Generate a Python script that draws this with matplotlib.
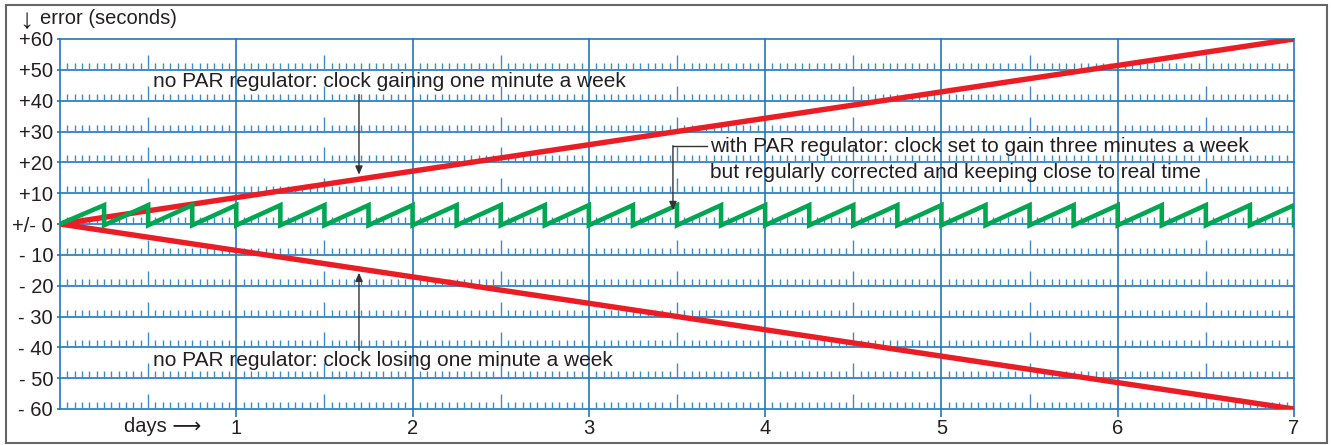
import matplotlib
matplotlib.use("Agg")
import matplotlib.pyplot as plt
from matplotlib.patches import Rectangle

# ============================================
# DATA
# ============================================
days_ticks = [1, 2, 3, 4, 5, 6, 7]
err_levels = [-60, -50, -40, -30, -20, -10, 0, 10, 20, 30, 40, 50, 60]
err_labels = ["- 60", "- 50", "- 40", "- 30", "- 20", "- 10", "+/- 0",
              "+10", "+20", "+30", "+40", "+50", "+60"]

# clocks without regulator: straight drift over the week
drift_days = [0, 7]
gain_err = [0, 60]
loss_err = [0, -60]

# clock with regulator: corrected four times a day
correction_days = [0.25, 0.5, 0.75, 1.0, 1.25, 1.5, 1.75, 2.0,
                   2.25, 2.5, 2.75, 3.0, 3.25, 3.5, 3.75, 4.0,
                   4.25, 4.5, 4.75, 5.0, 5.25, 5.5, 5.75, 6.0,
                   6.25, 6.5, 6.75, 7.0]
tooth_top = 6.1
tooth_low = -0.4

# ============================================
# STYLE
# ============================================
BLUE = "#2079bf"
TICK_BLUE = "#3a8ccc"
RED = "#ec1c24"
GREEN = "#00a651"
TXT = "#231f20"
FONT = ["Liberation Sans", "DejaVu Sans"]
plt.rcParams["font.family"] = FONT
FS = 15      # annotation text
FS_AX = 14.5 # axis labels

W, H = 1331, 445
fig = plt.figure(figsize=(W / 100, H / 100), dpi=100)
ax = fig.add_axes([60 / W, 1 - 409 / H, (1294 - 60) / W, (409 - 39) / H])
ax.set_xlim(0, 7)
ax.set_ylim(-60, 60)
for s in ax.spines.values():
    s.set_visible(False)

# grid lines
for lv in err_levels:
    ax.axhline(lv, color=BLUE, lw=1.2, zorder=1, clip_on=False)
for d in [0] + days_ticks:
    ax.axvline(d, color=BLUE, lw=1.2, zorder=1, clip_on=False)

# hourly ticks above each horizontal line (taller at noon)
units_per_px = 120 / (409 - 39)
for lv in err_levels[:-1]:
    for day in range(7):
        for hour in range(1, 24):
            h = 15 if hour == 12 else 7
            ax.vlines(day + hour / 24, lv, lv + h * units_per_px,
                      color=TICK_BLUE, lw=1.0, zorder=1)

ax.set_xticks(days_ticks)
ax.set_xticklabels([str(d) for d in days_ticks])
ax.set_yticks(err_levels)
ax.set_yticklabels(err_labels)
ax.tick_params(axis="x", direction="out", length=6, width=1.2, color=BLUE,
               labelsize=FS_AX, labelcolor=TXT, pad=1.5)
ax.tick_params(axis="y", direction="out", length=2.5, width=1.2, color=BLUE,
               labelsize=FS_AX, labelcolor=TXT, pad=2.5)

# series
ax.plot(drift_days, gain_err, color=RED, lw=3.9, solid_capstyle="butt", zorder=3)
ax.plot(drift_days, loss_err, color=RED, lw=3.9, solid_capstyle="butt", zorder=3)

gx, gy = [0], [0]
for c in correction_days:
    gx += [c, c]
    gy += [tooth_top, tooth_low]
ax.plot(gx, gy, color=GREEN, lw=3.3, solid_joinstyle="miter", zorder=4)

# annotations
arr = dict(arrowstyle="-|>,head_length=0.5,head_width=0.22", color="#333333", lw=1.0,
           shrinkA=0, shrinkB=0)
ax.text(0.527, 46.2, "no PAR regulator: clock gaining one minute a week",
        fontsize=FS, color=TXT, va="center", ha="left", zorder=5)
ax.annotate("", xy=(1.696, 16.0), xytext=(1.696, 42.0), arrowprops=arr, zorder=5)

ax.text(0.527, -44.3, "no PAR regulator: clock losing one minute a week",
        fontsize=FS, color=TXT, va="center", ha="left", zorder=5)
ax.annotate("", xy=(1.696, -15.8), xytext=(1.696, -41.0), arrowprops=arr, zorder=5)

ax.text(3.69, 25.1, "with PAR regulator: clock set to gain three minutes a week",
        fontsize=FS, color=TXT, va="center", ha="left", zorder=5)
ax.text(3.69, 16.6, "but regularly corrected and keeping close to real time",
        fontsize=FS, color=TXT, va="center", ha="left", zorder=5)
ax.plot([3.477, 3.672], [25.4, 25.4], color="#333333", lw=1.0, zorder=5)
ax.annotate("", xy=(3.477, 4.5), xytext=(3.477, 25.4), arrowprops=arr, zorder=5)

# axis captions
fig.text(19 / W, 1 - 21 / H, "\u2193", fontsize=FS_AX + 6, color=TXT,
         va="center", ha="left", family=FONT)
fig.text(40 / W, 1 - 19 / H, "error (seconds)", fontsize=FS_AX, color=TXT,
         va="center", ha="left", family=FONT)
ax.text(0.58, -60 - 18 * units_per_px, "days \u27f6", fontsize=FS_AX, color=TXT,
        va="center", ha="center", family=FONT)

# outer frame
fig.add_artist(Rectangle((6 / W, 1 - 443 / H), (1327 - 6) / W, (443 - 5) / H,
                         transform=fig.transFigure, fill=False,
                         ec="#666666", lw=1.5))

fig.savefig("out.png", dpi=100)
